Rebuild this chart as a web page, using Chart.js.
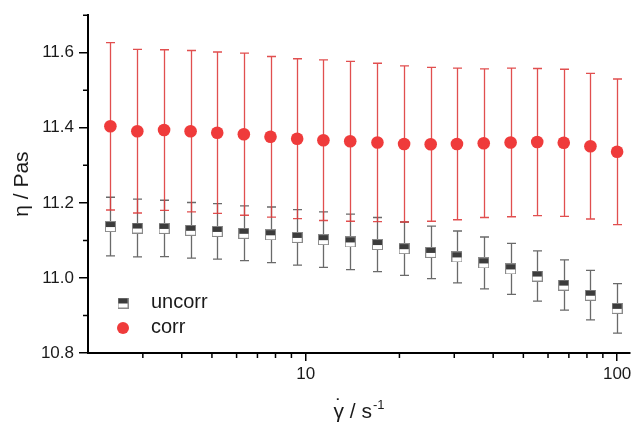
<!DOCTYPE html>
<html>
<head>
<meta charset="utf-8">
<script src="https://cdn.jsdelivr.net/npm/chart.js@4.4.1/dist/chart.umd.min.js"></script>
<style>
  body { margin: 0; background: #fff; }
  #wrap { width: 644px; height: 423px; }
</style>
</head>
<body>
<div id="wrap"><canvas id="chart" width="644" height="423"></canvas></div>
<script>
// Data
const shearRate = [2.36, 2.88, 3.51, 4.27, 5.20, 6.33, 7.71, 9.39, 11.4, 13.9, 17.0, 20.7, 25.2, 30.6, 37.3, 45.5, 55.4, 67.4, 82.1, 100];
const etaUncorr = [11.137, 11.133, 11.132, 11.127, 11.124, 11.119, 11.115, 11.108, 11.102, 11.096, 11.089, 11.078, 11.068, 11.056, 11.040, 11.024, 11.005, 10.981, 10.954, 10.919];
const errUncorr = [0.078, 0.077, 0.075, 0.074, 0.074, 0.073, 0.074, 0.074, 0.074, 0.074, 0.072, 0.071, 0.070, 0.069, 0.069, 0.068, 0.067, 0.067, 0.066, 0.066];
const etaCorr = [11.404, 11.391, 11.394, 11.391, 11.387, 11.383, 11.376, 11.371, 11.367, 11.364, 11.361, 11.357, 11.356, 11.357, 11.359, 11.361, 11.362, 11.360, 11.351, 11.336];
const errCorr = [0.223, 0.218, 0.214, 0.215, 0.215, 0.216, 0.214, 0.213, 0.214, 0.213, 0.211, 0.208, 0.205, 0.202, 0.198, 0.198, 0.196, 0.196, 0.194, 0.194];

const xMajor = [10, 100];
const xMinor = [3, 4, 5, 6, 7, 8, 9, 20, 30, 40, 50, 60, 70, 80, 90];
const yMajor = [10.8, 11.0, 11.2, 11.4, 11.6];
const yMinor = [10.9, 11.1, 11.3, 11.5, 11.7];

const FONT = "'Liberation Sans', Arial, sans-serif";
const RED = '#ef3b3b';
const INK = '#1a1a1a';

// half filled square marker for "uncorr"
function makeSquare() {
    const c = document.createElement('canvas');
    c.width = 11; c.height = 11;
    const g = c.getContext('2d');
    g.fillStyle = '#fff';
    g.fillRect(0, 0, 11, 11);
    g.fillStyle = '#3c3c3c';
    g.fillRect(0, 0, 11, 6);
    g.strokeStyle = '#8a8a8a';
    g.lineWidth = 1;
    g.strokeRect(0.5, 0.5, 10, 10);
    return c;
}
const squareImg = makeSquare();

const toPoints = (ys) => shearRate.map((x, i) => ({ x: x, y: ys[i] }));

// error bars, minor ticks, x title and legend
const extras = {
    id: 'extras',
    beforeDatasetsDraw(chart) {
        const ctx = chart.ctx;
        const xs = chart.scales.x, ys = chart.scales.y;
        const bars = [
            { vals: etaUncorr, errs: errUncorr, color: '#6a6a6a' },
            { vals: etaCorr, errs: errCorr, color: 'rgba(222,60,60,0.9)' }
        ];
        ctx.save();
        bars.forEach((b) => {
            ctx.strokeStyle = b.color;
            ctx.lineWidth = 1.3;
            shearRate.forEach((x, i) => {
                const px = Math.round(xs.getPixelForValue(x)) + 0.5;
                const top = ys.getPixelForValue(b.vals[i] + b.errs[i]);
                const bot = ys.getPixelForValue(b.vals[i] - b.errs[i]);
                ctx.beginPath();
                ctx.moveTo(px, top); ctx.lineTo(px, bot);
                ctx.moveTo(px - 4.5, top); ctx.lineTo(px + 4.5, top);
                ctx.moveTo(px - 4.5, bot); ctx.lineTo(px + 4.5, bot);
                ctx.stroke();
            });
        });
        ctx.restore();
    },
    afterDraw(chart) {
        const ctx = chart.ctx;
        const xs = chart.scales.x, ys = chart.scales.y;
        const area = chart.chartArea;
        ctx.save();
        ctx.strokeStyle = '#000';
        ctx.lineWidth = 1.5;
        ctx.beginPath();
        xMinor.forEach((v) => {
            const px = xs.getPixelForValue(v);
            ctx.moveTo(px, area.bottom); ctx.lineTo(px, area.bottom + 5);
        });
        yMinor.forEach((v) => {
            const py = ys.getPixelForValue(v);
            ctx.moveTo(area.left, py); ctx.lineTo(area.left - 5, py);
        });
        ctx.stroke();

        // x axis title: gamma-dot / s^-1
        ctx.fillStyle = INK;
        ctx.textBaseline = 'alphabetic';
        ctx.font = '21px ' + FONT;
        const wG = ctx.measureText('γ').width;
        const wR = ctx.measureText(' / s').width;
        ctx.font = '13px ' + FONT;
        const wS = ctx.measureText('-1').width;
        const cx = (area.left + area.right) / 2;
        let tx = cx - (wG + wR + wS + 1) / 2;
        const base = 418;
        ctx.font = '21px ' + FONT;
        ctx.textAlign = 'left';
        ctx.fillText('γ', tx, base);
        ctx.textAlign = 'center';
        ctx.fillText('˙', tx + wG / 2, base - 5);
        ctx.textAlign = 'left';
        ctx.fillText(' / s', tx + wG, base);
        ctx.font = '13px ' + FONT;
        ctx.fillText('-1', tx + wG + wR + 1, base - 9);

        // legend
        const lx = area.left + 35;
        ctx.drawImage(squareImg, lx - 5.5, 303 - 5.5);
        ctx.fillStyle = RED;
        ctx.beginPath();
        ctx.arc(lx, 328, 6, 0, Math.PI * 2);
        ctx.fill();
        ctx.fillStyle = INK;
        ctx.font = '20px ' + FONT;
        ctx.textBaseline = 'middle';
        ctx.fillText('uncorr', lx + 28, 302);
        ctx.fillText('corr', lx + 28, 327);
        ctx.restore();
    }
};

new Chart(document.getElementById('chart'), {
    type: 'scatter',
    data: {
        datasets: [
            {
                label: 'uncorr',
                data: toPoints(etaUncorr),
                pointStyle: squareImg
            },
            {
                label: 'corr',
                data: toPoints(etaCorr),
                pointStyle: 'circle',
                pointRadius: 6.3,
                pointBackgroundColor: RED,
                pointBorderWidth: 0
            }
        ]
    },
    options: {
        responsive: false,
        animation: false,
        layout: { padding: { top: 15, right: 14, left: 0, bottom: 0 } },
        plugins: {
            legend: { display: false },
            tooltip: { enabled: false }
        },
        scales: {
            x: {
                type: 'logarithmic',
                min: 2,
                max: 110,
                afterBuildTicks: (s) => { s.ticks = xMajor.map((v) => ({ value: v })); },
                afterFit: (s) => { s.height = 70; },
                border: { display: true, color: '#000', width: 2 },
                grid: { display: true, drawOnChartArea: false, drawTicks: true, tickLength: 8, color: '#000', lineWidth: 1.5 },
                ticks: {
                    color: INK,
                    font: { family: FONT, size: 17 },
                    padding: 3,
                    maxRotation: 0,
                    callback: (v) => String(v)
                }
            },
            y: {
                min: 10.8,
                max: 11.7,
                afterBuildTicks: (s) => { s.ticks = yMajor.map((v) => ({ value: v })); },
                afterFit: (s) => { s.width = 88; },
                border: { display: true, color: '#000', width: 2 },
                grid: { display: true, drawOnChartArea: false, drawTicks: true, tickLength: 9, color: '#000', lineWidth: 1.5 },
                ticks: {
                    color: INK,
                    font: { family: FONT, size: 17 },
                    padding: 5,
                    callback: (v) => Number(v).toFixed(1)
                },
                title: {
                    display: true,
                    text: 'η / Pas',
                    color: INK,
                    font: { family: FONT, size: 21 },
                    padding: { top: 10, bottom: 0 }
                }
            }
        }
    },
    plugins: [extras]
});
</script>
</body>
</html>
